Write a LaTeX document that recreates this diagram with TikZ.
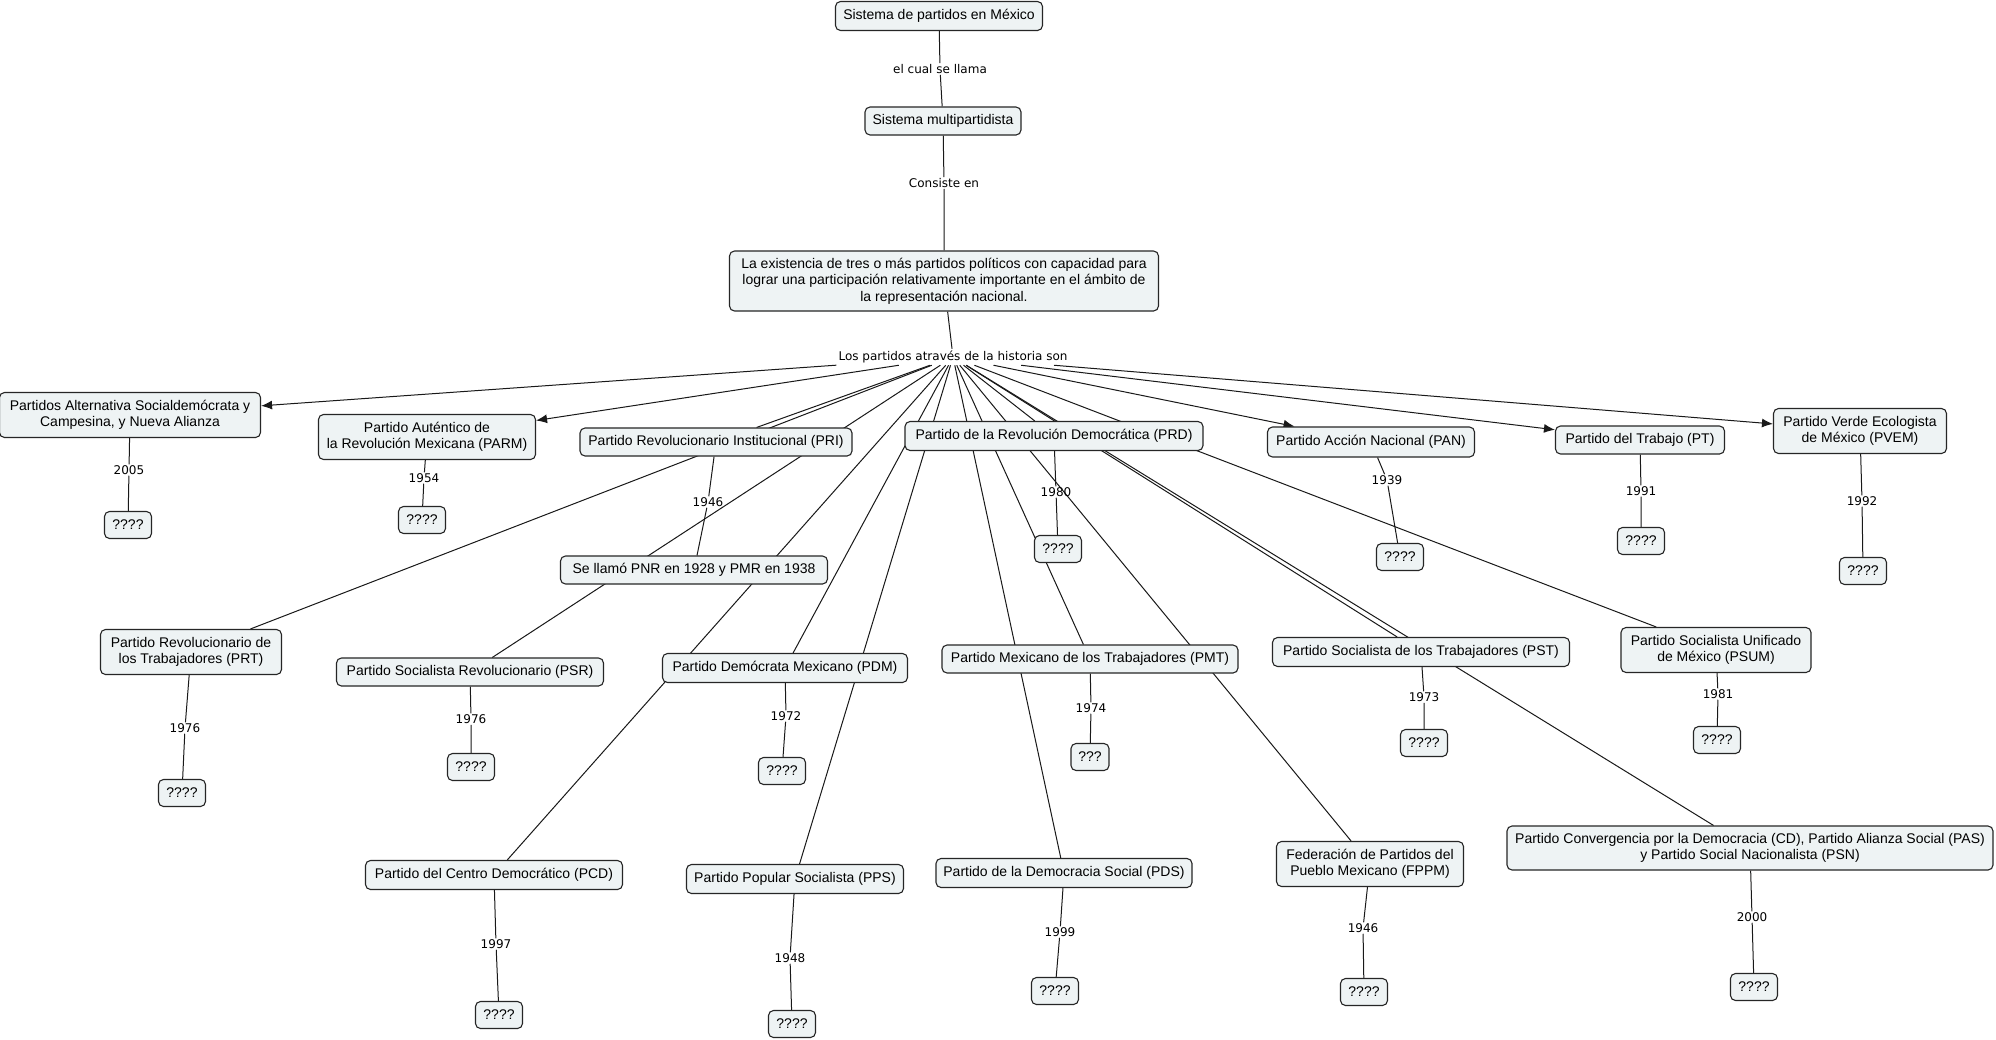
\documentclass[tikz,border=0pt]{standalone}
\usepackage{fontspec}
\setmainfont{Liberation Sans}
\newfontfamily\labfont{DejaVu Sans}
\usepackage{tikz}
\usetikzlibrary{arrows.meta,backgrounds}
\definecolor{cfill}{HTML}{EEF3F4}

\begin{document}
\begin{tikzpicture}[%
x=1pt, y=-1pt, >={Latex[length=11pt,width=9pt]},
box/.style={draw=black!85, fill=cfill, rounded corners=5pt, line width=1.1pt, inner sep=3pt, align=center, font=\fontsize{14}{16.5}\selectfont},
qbox/.style={box, minimum width=47, minimum height=27},
lbl/.style={inner sep=1pt, font=\labfont\fontsize{12}{14}\selectfont},
link/.style={line width=1pt, black!90}]%Define the box styles and the arrow type
\useasboundingbox (0,0) rectangle (1996,1039);
% top of the map
\node[box, minimum width=207, minimum height=29] (sis) at (939,16) {Sistema de partidos en México};
\node[lbl] (cual) at (940,69) {el cual se llama};
\node[box, minimum width=156, minimum height=28] (multi) at (943,121) {Sistema multipartidista};
\node[lbl] (cons) at (944,183) {Consiste en};
\node[box, minimum width=429, minimum height=60] (exis) at (944,281) {La existencia de tres o más partidos políticos con capacidad para\\lograr una participación relativamente importante en el ámbito de\\la representación nacional.};
\node[lbl, inner sep=2pt] (hist) at (953,357) {Los partidos através de la historia son};
% partidos
\node[box, minimum width=261, minimum height=45] (pasdc) at (130,415) {Partidos Alternativa Socialdemócrata y\\Campesina, y Nueva Alianza};
\node[box, minimum width=217, minimum height=45] (parm) at (427,437) {Partido Auténtico de\\la Revolución Mexicana (PARM)};
\node[box, minimum width=272, minimum height=28] (pri) at (716,442) {Partido Revolucionario Institucional (PRI)};
\node[box, minimum width=298, minimum height=29] (prd) at (1054,436) {Partido de la Revolución Democrática (PRD)};
\node[box, minimum width=207, minimum height=30] (pan) at (1371,442) {Partido Acción Nacional (PAN)};
\node[box, minimum width=169, minimum height=28] (pt) at (1640,440) {Partido del Trabajo (PT)};
\node[box, minimum width=173, minimum height=45] (pvem) at (1860,431) {Partido Verde Ecologista\\de México (PVEM)};
\node[box, minimum width=267, minimum height=28] (pnr) at (694,570) {Se llamó PNR en 1928 y PMR en 1938};
\node[box, minimum width=181, minimum height=45] (prt) at (191,652) {Partido Revolucionario de\\los Trabajadores (PRT)};
\node[box, minimum width=267, minimum height=28] (psr) at (470,672) {Partido Socialista Revolucionario (PSR)};
\node[box, minimum width=245, minimum height=29] (pdm) at (785,668) {Partido Demócrata Mexicano (PDM)};
\node[box, minimum width=296, minimum height=28] (pmt) at (1090,659) {Partido Mexicano de los Trabajadores (PMT)};
\node[box, minimum width=297, minimum height=29] (pst) at (1421,652) {Partido Socialista de los Trabajadores (PST)};
\node[box, minimum width=190, minimum height=45] (psum) at (1716,650) {Partido Socialista Unificado\\de México (PSUM)};
\node[box, minimum width=257, minimum height=29] (pcd) at (494,875) {Partido del Centro Democrático (PCD)};
\node[box, minimum width=217, minimum height=29] (pps) at (795,879) {Partido Popular Socialista (PPS)};
\node[box, minimum width=256, minimum height=29] (pds) at (1064,873) {Partido de la Democracia Social (PDS)};
\node[box, minimum width=187, minimum height=45] (fppm) at (1370,864) {Federación de Partidos del\\Pueblo Mexicano (FPPM)};
\node[box, minimum width=486, minimum height=44] (conv) at (1750,848) {Partido Convergencia por la Democracia (CD), Partido Alianza Social (PAS)\\y Partido Social Nacionalista (PSN)};
% years
\node[lbl] (y-pasdc) at (129,470) {2005};
\node[lbl] (y-parm) at (424,478) {1954};
\node[lbl] (y-pri) at (708,502) {1946};
\node[lbl] (y-prd) at (1056,492) {1980};
\node[lbl] (y-pan) at (1387,480) {1939};
\node[lbl] (y-pt) at (1641,491) {1991};
\node[lbl] (y-pvem) at (1862,501) {1992};
\node[lbl] (y-prt) at (185,728) {1976};
\node[lbl] (y-psr) at (471,719) {1976};
\node[lbl] (y-pdm) at (786,716) {1972};
\node[lbl] (y-pmt) at (1091,708) {1974};
\node[lbl] (y-pst) at (1424,697) {1973};
\node[lbl] (y-psum) at (1718,694) {1981};
\node[lbl] (y-pcd) at (496,944) {1997};
\node[lbl] (y-pps) at (790,958) {1948};
\node[lbl] (y-pds) at (1060,932) {1999};
\node[lbl] (y-fppm) at (1363,928) {1946};
\node[lbl] (y-conv) at (1752,917) {2000};
% unknown boxes
\node[qbox] (q-pasdc) at (128,525) {????};
\node[qbox] (q-parm) at (422,520) {????};
\node[qbox] (q-prd) at (1058,549) {????};
\node[qbox] (q-pan) at (1400,557) {????};
\node[qbox] (q-pt) at (1641,541) {????};
\node[qbox] (q-pvem) at (1863,571) {????};
\node[qbox] (q-prt) at (182,793) {????};
\node[qbox] (q-psr) at (471,767) {????};
\node[qbox] (q-pdm) at (782,771) {????};
\node[qbox, minimum width=38] (q-pmt) at (1090,757) {???};
\node[qbox] (q-pst) at (1424,743) {????};
\node[qbox] (q-psum) at (1717,740) {????};
\node[qbox] (q-pcd) at (499,1015) {????};
\node[qbox] (q-pps) at (792,1024) {????};
\node[qbox] (q-pds) at (1055,991) {????};
\node[qbox] (q-fppm) at (1364,992) {????};
\node[qbox] (q-conv) at (1754,987) {????};

\begin{pgfonlayer}{background}
\fill[white] (0,0) rectangle (1996,1039);
\draw[link] (sis) -- (cual) -- (multi);
\draw[link] (multi) -- (cons) -- (exis);
\draw[link] (exis) -- (hist);
\foreach \p in {pasdc,parm,pan,pt,pvem}
  \draw[link,->] (hist) -- (\p); %arrows from the linking phrase
\foreach \p in {pri,prt,psr,pcd,pdm,pps,prd,pds,pmt,fppm,pst,conv,psum}
  \draw[link] (hist) -- (\p);
\draw[link] (pri) -- (y-pri) -- (pnr);
\foreach \p in {pasdc,parm,prd,pan,pt,pvem,prt,psr,pdm,pmt,pst,psum,pcd,pps,pds,fppm,conv}
  \draw[link] (\p) -- (y-\p) -- (q-\p);
\end{pgfonlayer}
\end{tikzpicture}
\end{document}
